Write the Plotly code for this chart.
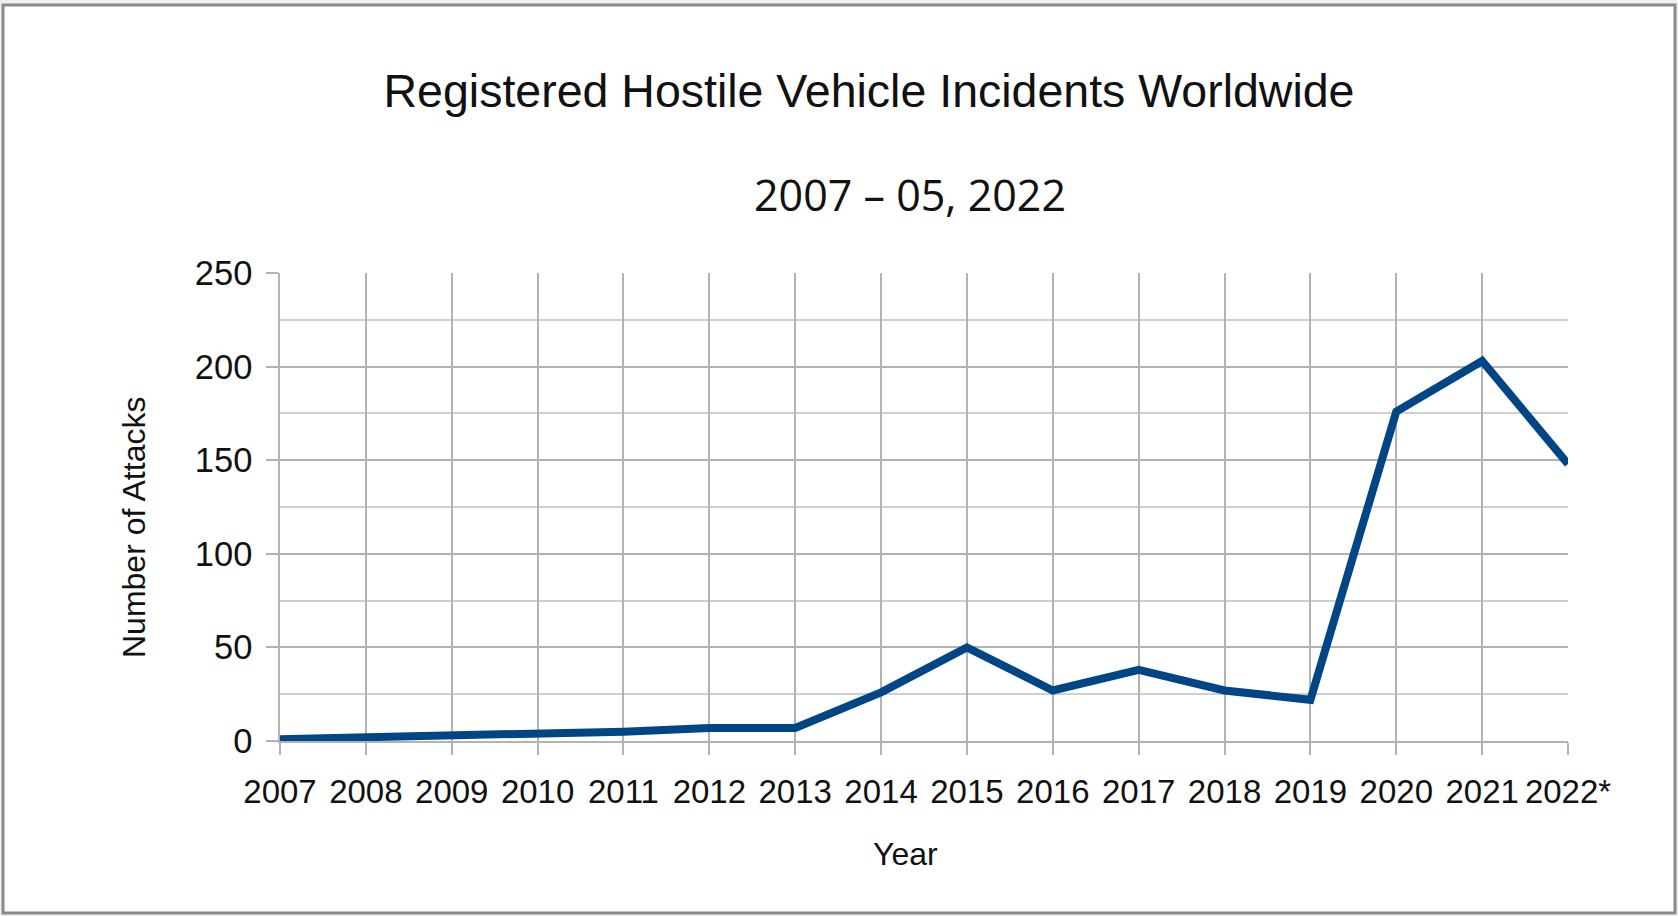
import plotly.graph_objects as go

years = ["2007", "2008", "2009", "2010", "2011", "2012", "2013", "2014",
         "2015", "2016", "2017", "2018", "2019", "2020", "2021", "2022*"]
attacks = [1, 2, 2, 4, 5, 7, 7, 26, 50, 27, 38, 27, 22, 176, 203, 148]
y_ticks = [0, 50, 100, 150, 200, 250]

title_text = "Registered Hostile Vehicle Incidents Worldwide"
subtitle_text = "2007 – 05, 2022"
x_title = "Year"
y_title = "Number of Attacks"

W, H = 1678, 916
L, R, T, B = 280, 110, 273, 175
pw, ph = W - L - R, H - T - B

def px_x(p):
    return (p - L) / pw

def px_y(p):
    return (H - B - p) / ph

fig = go.Figure()
fig.add_trace(go.Scatter(
    x=years, y=attacks, mode="lines",
    line=dict(color="#004586", width=8),
    showlegend=False, hoverinfo="x+y",
))

grid = "#b3b3b3"
fig.update_layout(
    width=W, height=H,
    margin=dict(l=L, r=R, t=T, b=B),
    paper_bgcolor="#f0f0f0",
    plot_bgcolor="white",
    font=dict(family="Liberation Sans, Arial, sans-serif", color="#111111"),
    title=dict(text=title_text, x=869 / W, xanchor="center",
               y=1 - 91 / H, yanchor="middle", yref="container",
               font=dict(size=46.5, family="Liberation Sans, Arial, sans-serif", color="#111111")),
    xaxis=dict(
        type="category", range=[0, len(years) - 1],
        showgrid=True, gridcolor=grid, gridwidth=1.5,
        showline=True, linecolor=grid, linewidth=1.5, mirror=False,
        ticks="outside", ticklen=12, tickcolor=grid, tickwidth=1.5,
        tickfont=dict(size=33), ticklabelstandoff=9,
        zeroline=False,
    ),
    yaxis=dict(
        range=[0, 250], tickvals=y_ticks,
        showgrid=True, gridcolor=grid, gridwidth=1.5,
        minor=dict(dtick=25, showgrid=True, gridcolor="#cfcfcf", gridwidth=1.5, ticks=""),
        showline=True, linecolor=grid, linewidth=1.5,
        ticks="outside", ticklen=12, tickcolor=grid, tickwidth=1.5,
        tickfont=dict(size=34.5), ticklabelstandoff=7,
        zeroline=False,
    ),
    shapes=[dict(
        type="rect", xref="paper", yref="paper", layer="below",
        x0=px_x(3), x1=px_x(1675), y0=px_y(913), y1=px_y(5),
        line=dict(color="#8a8a8a", width=3), fillcolor="white",
    )],
    annotations=[
        dict(text=subtitle_text, xref="paper", yref="paper",
             x=px_x(910), y=px_y(195), xanchor="center", yanchor="middle",
             showarrow=False, font=dict(size=43, family="Open Sans, Noto Sans, sans-serif", color="#111111")),
        dict(text=x_title, xref="paper", yref="paper",
             x=px_x(905), y=px_y(854), xanchor="center", yanchor="middle",
             showarrow=False, font=dict(size=32)),
        dict(text=y_title, xref="paper", yref="paper",
             x=px_x(134), y=px_y(528), xanchor="center", yanchor="middle",
             textangle=-90, showarrow=False, font=dict(size=32)),
    ],
)

fig.write_html("out.html",
               config={"displayModeBar": False},
               post_script="document.body.style.margin='0';document.body.style.overflow='hidden';")
